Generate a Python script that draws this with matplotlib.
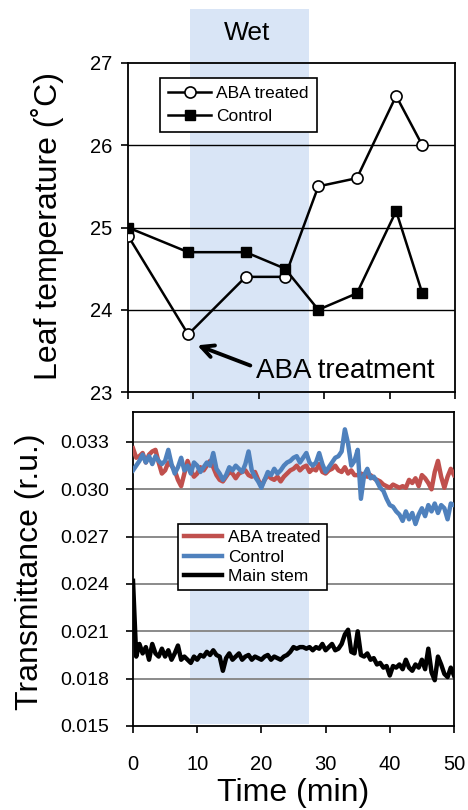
import numpy as np
import matplotlib
matplotlib.use("Agg")
import matplotlib.pyplot as plt
from matplotlib.patches import Rectangle
import matplotlib.transforms as mtransforms

plt.rcParams['font.family'] = ['Liberation Sans', 'DejaVu Sans']

# ---------------- data ----------------
# Leaf temperature (top panel)
temp_time = [0, 9.2, 18.0, 24.0, 29.1, 35.0, 41.0, 45.0]
temp_aba = [24.9, 23.7, 24.4, 24.4, 25.5, 25.6, 26.6, 26.0]
temp_control = [25.0, 24.7, 24.7, 24.5, 24.0, 24.2, 25.2, 24.2]

# Transmittance (bottom panel), sampled every 0.5 min from 0 to 50 min
trans_time = [i * 0.5 for i in range(101)]
trans_aba = [
    0.0326, 0.0320, 0.0321, 0.0323, 0.0317, 0.0322, 0.0324, 0.0325, 0.0317, 0.0310,
    0.0312, 0.0317, 0.0315, 0.0312, 0.0306, 0.0302, 0.0310, 0.0318, 0.0312, 0.0308,
    0.0310, 0.0314, 0.0312, 0.0315, 0.0318, 0.0314, 0.0309, 0.0306, 0.0305, 0.0308,
    0.0311, 0.0310, 0.0307, 0.0310, 0.0311, 0.0312, 0.0309, 0.0308, 0.0311, 0.0306,
    0.0302, 0.0306, 0.0309, 0.0307, 0.0306, 0.0308, 0.0305, 0.0308, 0.0310, 0.0312,
    0.0313, 0.0315, 0.0312, 0.0314, 0.0315, 0.0311, 0.0313, 0.0312, 0.0316, 0.0311,
    0.0310, 0.0312, 0.0313, 0.0315, 0.0312, 0.0311, 0.0314, 0.0310, 0.0312, 0.0309,
    0.0309, 0.0310, 0.0309, 0.0308, 0.0309, 0.0307, 0.0306, 0.0305, 0.0303, 0.0302,
    0.0301, 0.0303, 0.0302, 0.0301, 0.0302, 0.0301, 0.0306, 0.0304, 0.0307, 0.0302,
    0.0309, 0.0307, 0.0304, 0.0300, 0.0311, 0.0318, 0.0308, 0.0301, 0.0308, 0.0313,
    0.0309]
trans_control = [
    0.0312, 0.0315, 0.0318, 0.0322, 0.0317, 0.0321, 0.0316, 0.0321, 0.0318, 0.0316,
    0.0318, 0.0325, 0.0316, 0.0310, 0.0314, 0.0320, 0.0312, 0.0315, 0.0310, 0.0317,
    0.0315, 0.0311, 0.0314, 0.0317, 0.0315, 0.0323, 0.0313, 0.0310, 0.0306, 0.0309,
    0.0314, 0.0312, 0.0315, 0.0313, 0.0311, 0.0316, 0.0324, 0.0312, 0.0308, 0.0305,
    0.0301, 0.0306, 0.0311, 0.0309, 0.0313, 0.0310, 0.0312, 0.0315, 0.0317, 0.0318,
    0.0320, 0.0321, 0.0317, 0.0320, 0.0323, 0.0317, 0.0315, 0.0317, 0.0323, 0.0316,
    0.0311, 0.0314, 0.0317, 0.0320, 0.0321, 0.0324, 0.0338, 0.0329, 0.0315, 0.0318,
    0.0325, 0.0294, 0.0309, 0.0313, 0.0307, 0.0308, 0.0305, 0.0301, 0.0299, 0.0294,
    0.0290, 0.0289, 0.0286, 0.0284, 0.0280, 0.0286, 0.0281, 0.0285, 0.0278, 0.0284,
    0.0288, 0.0283, 0.0290, 0.0286, 0.0291, 0.0285, 0.0290, 0.0288, 0.0281, 0.0291,
    0.0290]
trans_mainstem = [
    0.0242, 0.0194, 0.0202, 0.0196, 0.0200, 0.0192, 0.0202, 0.0196, 0.0194, 0.0199,
    0.0194, 0.0198, 0.0192, 0.0196, 0.0201, 0.0192, 0.0194, 0.0192, 0.0190, 0.0194,
    0.0192, 0.0195, 0.0194, 0.0197, 0.0195, 0.0198, 0.0195, 0.0194, 0.0185, 0.0193,
    0.0196, 0.0192, 0.0194, 0.0196, 0.0192, 0.0194, 0.0195, 0.0192, 0.0194, 0.0193,
    0.0192, 0.0194, 0.0195, 0.0192, 0.0194, 0.0193, 0.0192, 0.0194, 0.0195, 0.0197,
    0.0200, 0.0199, 0.0200, 0.0200, 0.0199, 0.0200, 0.0198, 0.0200, 0.0199, 0.0202,
    0.0198, 0.0200, 0.0202, 0.0198, 0.0199, 0.0202, 0.0208, 0.0211, 0.0197, 0.0196,
    0.0210, 0.0195, 0.0194, 0.0196, 0.0192, 0.0193, 0.0189, 0.0190, 0.0187, 0.0188,
    0.0182, 0.0188, 0.0187, 0.0189, 0.0186, 0.0192, 0.0187, 0.0185, 0.0189, 0.0187,
    0.0192, 0.0186, 0.0199, 0.0184, 0.0179, 0.0194, 0.0189, 0.0183, 0.0181, 0.0187,
    0.0182]

wet_period = [9.5, 27.7]
temp_yticks = [23, 24, 25, 26, 27]
trans_yticks = [0.015, 0.018, 0.021, 0.024, 0.027, 0.030, 0.033]
trans_yticklabels = ["0.015", "0.018", "0.021", "0.024", "0.027", "0.030", "0.033"]
xticks = [0, 10, 20, 30, 40, 50]

RED = '#c0504d'
BLUE = '#4f81bd'
BAND = '#d9e5f6'

# ---------------- figure ----------------
fig = plt.figure(figsize=(4.68, 8.10), dpi=100)
ax1 = fig.add_axes([128/468, 1-392/810, 327/468, 329/810])
ax2 = fig.add_axes([133/468, 1-726/810, 321/468, 314/810])
for ax in (ax1, ax2):
    ax.set_facecolor('none')

# Wet band spanning both panels
trans = mtransforms.blended_transform_factory(ax1.transData, fig.transFigure)
band = Rectangle((wet_period[0], 1-724/810), wet_period[1]-wet_period[0], (724-9)/810,
                 transform=trans, facecolor=BAND, edgecolor='none', zorder=-10)
fig.add_artist(band)

# ---- top panel ----
ax1.set_xlim(0, 50)
ax1.set_ylim(23, 27)
for yv in [24, 25, 26]:
    ax1.axhline(yv, color='black', lw=1.0, zorder=1)
ax1.plot(temp_time, temp_aba, '-o', color='black', lw=1.8, ms=8,
         mfc='white', mec='black', mew=1.2, label='ABA treated', zorder=3)
ax1.plot(temp_time, temp_control, '-s', color='black', lw=1.8, ms=7.5,
         mfc='black', mec='black', label='Control', zorder=3)
ax1.set_yticks(temp_yticks)
ax1.set_xticks(xticks)
ax1.tick_params(axis='x', labelbottom=False, direction='out', length=5, width=1.2)
ax1.tick_params(axis='y', direction='out', length=5, width=1.2, labelsize=14.5, pad=6)
for s in ax1.spines.values():
    s.set_linewidth(1.3)
ax1.set_ylabel('Leaf temperature (˚C)', fontsize=23)
ax1.yaxis.set_label_coords(-0.195, 0.505)
leg1 = ax1.legend(loc='upper left', bbox_to_anchor=(0.098, 0.953), fontsize=12.5,
                  frameon=True, fancybox=False, framealpha=1, edgecolor='black',
                  handlelength=2.5, handletextpad=0.3, borderpad=0.45,
                  labelspacing=0.45, borderaxespad=0)
leg1.get_frame().set_linewidth(1.2)

ax1.annotate('', xy=(10.2, 23.58), xytext=(19.1, 23.31),
             arrowprops=dict(arrowstyle='->', lw=2.8, color='black', mutation_scale=22))
ax1.text(19.6, 23.25, 'ABA treatment', fontsize=20, ha='left', va='center')
ax1.text(18.2, 27.365, 'Wet', fontsize=19, ha='center', va='center', clip_on=False)

# ---- bottom panel ----
ax2.set_xlim(0, 50)
ax2.set_ylim(0.015, 0.0349)
for yv in trans_yticks[1:]:
    ax2.axhline(yv, color='#8a8a8a', lw=1.4, zorder=1)
ax2.plot(trans_time, trans_aba, color=RED, lw=3.2, label='ABA treated', zorder=3)
ax2.plot(trans_time, trans_control, color=BLUE, lw=3.2, label='Control', zorder=3)
ax2.plot(trans_time, trans_mainstem, color='black', lw=3.2, label='Main stem', zorder=3)
ax2.set_yticks(trans_yticks)
ax2.set_yticklabels(trans_yticklabels)
ax2.set_xticks(xticks)
ax2.tick_params(axis='x', direction='out', length=5, width=1.2, labelsize=14.5, pad=16)
ax2.tick_params(axis='y', direction='out', length=5, width=1.2, labelsize=14, pad=12)
for s in ax2.spines.values():
    s.set_linewidth(1.3)
ax2.set_ylabel('Transmittance (r.u.)', fontsize=23)
ax2.yaxis.set_label_coords(-0.275, 0.49)
ax2.set_xlabel('Time (min)', fontsize=23, labelpad=3)
leg2 = ax2.legend(loc='upper left', bbox_to_anchor=(0.14, 0.643), fontsize=12.5,
                  frameon=True, fancybox=False, framealpha=1, edgecolor='black',
                  handlelength=2.2, handletextpad=0.35, borderpad=0.35,
                  labelspacing=0.25, borderaxespad=0)
leg2.get_frame().set_linewidth(1.2)

fig.savefig('out.png', dpi=100)
